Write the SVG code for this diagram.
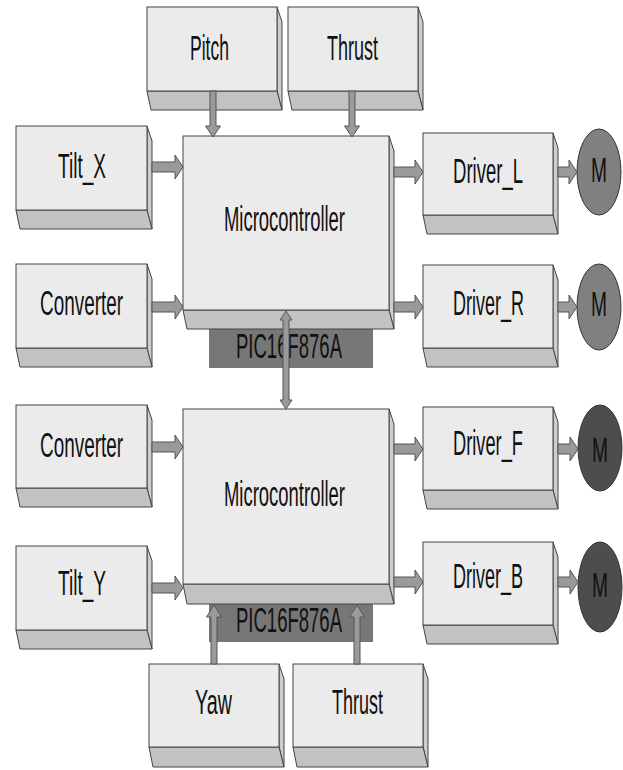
<svg xmlns="http://www.w3.org/2000/svg" width="623" height="770" viewBox="0 0 623 770">
<style>
.f{fill:#ebebeb;stroke:#444;stroke-width:1}
.s{fill:#cdcdcd;stroke:#444;stroke-width:1}
.b{fill:#c2c2c2;stroke:#444;stroke-width:1}
.t{font-family:"Liberation Sans Narrow","Liberation Sans",Arial,sans-serif;font-size:35px;fill:#111}
.lab{fill:#777777}
.m1{fill:#808080;stroke:#333;stroke-width:1}
.m2{fill:#4d4d4d;stroke:#333;stroke-width:1}
.a{fill:#9a9a9a;stroke:#555;stroke-width:1;stroke-linejoin:miter}
</style>
<rect width="623" height="770" fill="#ffffff"/>
<g id="pitch">
<polygon class="s" points="277,7 282,22 282,110 277,91"/>
<polygon class="b" points="147,91 277,91 282,110 151,110"/>
<rect class="f" x="147" y="7" width="130" height="84"/>
<text class="t" x="190" y="60" textLength="39" lengthAdjust="spacingAndGlyphs">Pitch</text>
</g>
<g id="thrust_top">
<polygon class="s" points="418,7 423,22 423,110 418,91"/>
<polygon class="b" points="288,91 418,91 423,110 292,110"/>
<rect class="f" x="288" y="7" width="130" height="84"/>
<text class="t" x="327" y="60" textLength="51" lengthAdjust="spacingAndGlyphs">Thrust</text>
</g>
<g id="tilt_x">
<polygon class="s" points="147,126 152,141 152,229 147,210"/>
<polygon class="b" points="16,210 147,210 152,229 20,229"/>
<rect class="f" x="16" y="126" width="131" height="84"/>
<text class="t" x="58" y="178" textLength="48" lengthAdjust="spacingAndGlyphs">Tilt_X</text>
</g>
<g id="converter_top">
<polygon class="s" points="147,264 152,279 152,367 147,348"/>
<polygon class="b" points="16,348 147,348 152,367 20,367"/>
<rect class="f" x="16" y="264" width="131" height="84"/>
<text class="t" x="40" y="315" textLength="83" lengthAdjust="spacingAndGlyphs">Converter</text>
</g>
<g id="micro_top">
<rect class="lab" x="209" y="329" width="164" height="39"/>
<text class="t" x="236" y="358" textLength="106" lengthAdjust="spacingAndGlyphs">PIC16F876A</text>
<polygon class="s" points="389,136 394,151 394,329 389,310"/>
<polygon class="b" points="183,310 389,310 394,329 187,329"/>
<rect class="f" x="183" y="136" width="206" height="174"/>
<text class="t" x="224" y="231" textLength="121" lengthAdjust="spacingAndGlyphs">Microcontroller</text>
</g>
<g id="driver_l">
<polygon class="s" points="553,133 558,148 558,234 553,215"/>
<polygon class="b" points="423,215 553,215 558,234 427,234"/>
<rect class="f" x="423" y="133" width="130" height="82"/>
<text class="t" x="453" y="183" textLength="70" lengthAdjust="spacingAndGlyphs">Driver_L</text>
</g>
<g id="driver_r">
<polygon class="s" points="553,265 558,280 558,367 553,348"/>
<polygon class="b" points="423,348 553,348 558,367 427,367"/>
<rect class="f" x="423" y="265" width="130" height="83"/>
<text class="t" x="453" y="315" textLength="71" lengthAdjust="spacingAndGlyphs">Driver_R</text>
</g>
<g id="converter_bottom">
<polygon class="s" points="147,405 152,420 152,507 147,488"/>
<polygon class="b" points="16,488 147,488 152,507 20,507"/>
<rect class="f" x="16" y="405" width="131" height="83"/>
<text class="t" x="40" y="457" textLength="83" lengthAdjust="spacingAndGlyphs">Converter</text>
</g>
<g id="tilt_y">
<polygon class="s" points="147,546 152,561 152,649 147,630"/>
<polygon class="b" points="16,630 147,630 152,649 20,649"/>
<rect class="f" x="16" y="546" width="131" height="84"/>
<text class="t" x="58" y="595" textLength="48" lengthAdjust="spacingAndGlyphs">Tilt_Y</text>
</g>
<g id="micro_bottom">
<rect class="lab" x="209" y="604" width="164" height="38"/>
<text class="t" x="236" y="632" textLength="106" lengthAdjust="spacingAndGlyphs">PIC16F876A</text>
<polygon class="s" points="389,409 394,424 394,604 389,584"/>
<polygon class="b" points="183,584 389,584 394,604 187,604"/>
<rect class="f" x="183" y="409" width="206" height="175"/>
<text class="t" x="224" y="506" textLength="121" lengthAdjust="spacingAndGlyphs">Microcontroller</text>
</g>
<g id="driver_f">
<polygon class="s" points="553,407 558,422 558,509 553,490"/>
<polygon class="b" points="423,490 553,490 558,509 427,509"/>
<rect class="f" x="423" y="407" width="130" height="83"/>
<text class="t" x="453" y="455" textLength="70" lengthAdjust="spacingAndGlyphs">Driver_F</text>
</g>
<g id="driver_b">
<polygon class="s" points="553,542 558,557 558,644 553,625"/>
<polygon class="b" points="423,625 553,625 558,644 427,644"/>
<rect class="f" x="423" y="542" width="130" height="83"/>
<text class="t" x="453" y="588" textLength="70" lengthAdjust="spacingAndGlyphs">Driver_B</text>
</g>
<g id="yaw">
<polygon class="s" points="279,664 284,679 284,767 279,747"/>
<polygon class="b" points="149,747 279,747 284,767 153,767"/>
<rect class="f" x="149" y="664" width="130" height="83"/>
<text class="t" x="195" y="714" textLength="37" lengthAdjust="spacingAndGlyphs">Yaw</text>
</g>
<g id="thrust_bottom">
<polygon class="s" points="423,664 428,679 428,767 423,747"/>
<polygon class="b" points="293,747 423,747 428,767 297,767"/>
<rect class="f" x="293" y="664" width="130" height="83"/>
<text class="t" x="332" y="714" textLength="51" lengthAdjust="spacingAndGlyphs">Thrust</text>
</g>
<g id="motor_l">
<ellipse class="m1" cx="599" cy="172" rx="22" ry="43"/>
<text class="t" x="591" y="182" textLength="16" lengthAdjust="spacingAndGlyphs">M</text>
</g>
<g id="motor_r">
<ellipse class="m1" cx="599" cy="307" rx="22" ry="43"/>
<text class="t" x="591" y="316" textLength="16" lengthAdjust="spacingAndGlyphs">M</text>
</g>
<g id="motor_f">
<ellipse class="m2" cx="600" cy="448" rx="22" ry="43"/>
<text class="t" x="592" y="462" textLength="16" lengthAdjust="spacingAndGlyphs">M</text>
</g>
<g id="motor_b">
<ellipse class="m2" cx="600" cy="587" rx="22" ry="45"/>
<text class="t" x="592" y="597" textLength="16" lengthAdjust="spacingAndGlyphs">M</text>
</g>
<g id="connectors">
<polygon class="a" points="210,91 216,91 216,126 220.5,126 213,137 205.5,126 210,126"/>
<polygon class="a" points="349,91 355,91 355,126 359.5,126 352,137 344.5,126 349,126"/>
<polygon class="a" points="152,162 175,162 175,155 183,167 175,179 175,172 152,172"/>
<polygon class="a" points="152,302 175,302 175,295 183,307 175,319 175,312 152,312"/>
<polygon class="a" points="152,442 175,442 175,435 183,447 175,459 175,452 152,452"/>
<polygon class="a" points="152,583 175,583 175,576 183,588 175,600 175,593 152,593"/>
<polygon class="a" points="394,167 415,167 415,160 423,172 415,184 415,177 394,177"/>
<polygon class="a" points="394,302 415,302 415,295 423,307 415,319 415,312 394,312"/>
<polygon class="a" points="394,444 415,444 415,437 423,449 415,461 415,454 394,454"/>
<polygon class="a" points="394,577 415,577 415,570 423,582 415,594 415,587 394,587"/>
<polygon class="a" points="558,167 569,167 569,160 577,172 569,184 569,177 558,177"/>
<polygon class="a" points="558,302 569,302 569,295 577,307 569,319 569,312 558,312"/>
<polygon class="a" points="558,444 570,444 570,437 578,449 570,461 570,454 558,454"/>
<polygon class="a" points="558,577 570,577 570,570 578,582 570,594 570,587 558,587"/>
<polygon class="a" points="283,320 283,400 280,400 286,409 292,400 289,400 289,320 292,320 286,311 280,320"/>
<polygon class="a" points="211,664 217,664 217,617 221.5,617 214,605 206.5,617 211,617"/>
<polygon class="a" points="354,664 360,664 360,617 364.5,617 357,605 349.5,617 354,617"/>
</g>
</svg>
